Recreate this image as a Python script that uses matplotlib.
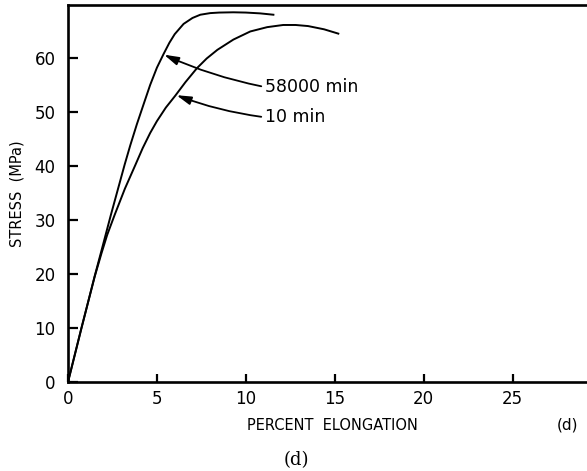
import matplotlib
matplotlib.use("Agg")
import matplotlib.pyplot as plt

# Data (percent elongation, stress MPa)
elong_58000 = [0.0, 0.75, 1.5, 1.88, 2.4, 3.19, 3.5, 3.87, 4.3, 4.62, 5.0, 5.37, 5.7, 6.0, 6.5, 7.0,
               7.44, 8.0, 8.5, 9.3, 10.0, 10.8, 11.55]
stress_58000 = [0.0, 9.9, 19.6, 24.3, 30.8, 40.3, 43.8, 47.7, 51.9, 55.0, 58.2, 60.7, 62.8, 64.4, 66.3, 67.4,
                68.0, 68.3, 68.4, 68.45, 68.4, 68.25, 68.0]

elong_10 = [0.0, 0.75, 1.5, 1.88, 2.2, 2.63, 3.2, 3.79, 4.2, 4.62, 5.0, 5.5, 6.03, 6.6, 7.25, 7.8, 8.4, 9.3,
            10.25, 11.2, 12.1, 12.8, 13.5, 14.4, 15.2]
stress_10 = [0.0, 9.9, 19.5, 23.8, 27.2, 31.0, 35.8, 40.2, 43.3, 46.1, 48.3, 50.8, 53.0, 55.5, 58.1, 59.9, 61.5, 63.4,
             64.9, 65.7, 66.1, 66.1, 65.9, 65.3, 64.5]

labels = ["58000 min", "10 min"]
arrow_tips = [(5.4, 60.6), (6.1, 53.1)]
label_pos = [(11.1, 54.6), (11.1, 49.0)]

x_ticks = [0, 5, 10, 15, 20, 25]
y_ticks = [0, 10, 20, 30, 40, 50, 60]

fig = plt.figure(figsize=(5.87, 4.71), dpi=100)
ax = fig.add_axes([68/587, 89/471, 1 - 68/587 + 0.002, (382-5)/471])

ax.plot(elong_58000, stress_58000, color="black", lw=1.4, solid_joinstyle="round")
ax.plot(elong_10, stress_10, color="black", lw=1.4, solid_joinstyle="round")

for lab, tip, pos in zip(labels, arrow_tips, label_pos):
    ax.annotate(lab, xy=tip, xytext=pos, ha="left", va="center", fontsize=12.5,
                arrowprops=dict(arrowstyle="-|>,head_length=0.7,head_width=0.2",
                                connectionstyle="arc3,rad=-0.06", color="black",
                                lw=1.3, shrinkA=1, shrinkB=0, relpos=(0, 0.5)))

ax.set_xlim(0, 29.25)
ax.set_ylim(0, 69.8)
ax.set_xticks(x_ticks)
ax.set_yticks(y_ticks)
ax.tick_params(axis="both", direction="in", width=1.6, labelsize=12)
ax.tick_params(axis="y", length=7, pad=9)
ax.tick_params(axis="x", length=6, pad=6)
ax.spines["right"].set_visible(False)
for s in ["left", "bottom", "top"]:
    ax.spines[s].set_linewidth(1.9)

ax.set_ylabel("STRESS  (MPa)", fontsize=10.5, labelpad=7)
fig.text(332/587, 1 - 425/471, "PERCENT  ELONGATION", ha="center", va="center", fontsize=10.5)
fig.text(568/587, 1 - 425/471, "(d)", ha="center", va="center", fontsize=11)
fig.text(296/587, 1 - 460/471, "(d)", ha="center", va="center", fontsize=13, family="DejaVu Serif")

fig.savefig("out.png", dpi=100, facecolor="white")
